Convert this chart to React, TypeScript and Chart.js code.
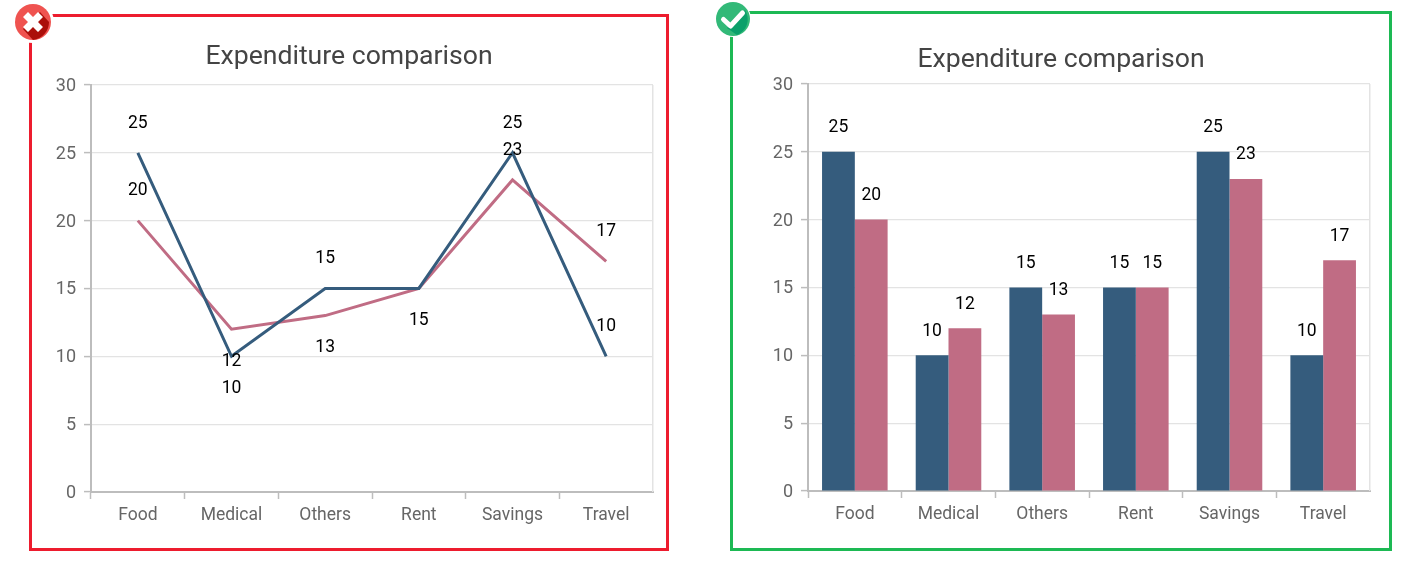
import React, { useEffect, useRef } from "react";
import { Chart, registerables } from "chart.js";

Chart.register(...registerables);

const categories = ["Food", "Medical", "Others", "Rent", "Savings", "Travel"];
const seriesA = [25, 10, 15, 15, 25, 10];
const seriesB = [20, 12, 13, 15, 23, 17];
const yTicks = [0, 5, 10, 15, 20, 25, 30];
const titleText = "Expenditure comparison";

// Which side of each line point its value label is printed on
const lineSidesA = ["above", "below", "above", "none", "above", "above"];
const lineSidesB = ["above", "below", "below", "below", "above", "above"];

const BLUE = "#355C7D";
const PINK = "#C06C84";
const FONT = "Roboto";
const AXIS = "#BDBDBD";
const GRID = "#E3E3E3";

const valueLabels = {
  id: "valueLabels",
  afterDatasetsDraw(chart: any) {
    const { ctx } = chart;
    const opts = chart.options.plugins.valueLabels;
    ctx.save();
    ctx.font = `17.5px ${FONT}`;
    ctx.fillStyle = "#000";
    ctx.textAlign = "center";
    ctx.textBaseline = "middle";
    chart.data.datasets.forEach((ds: any, di: number) => {
      const meta = chart.getDatasetMeta(di);
      meta.data.forEach((el: any, i: number) => {
        const side = ds.labelSides ? ds.labelSides[i] : "above";
        if (side === "none") return;
        const dy = side === "above" ? -opts.above : opts.below;
        ctx.fillText(String(ds.data[i]), el.x, el.y + dy);
      });
    });
    ctx.restore();
  },
};

const rightEdge = {
  id: "rightEdge",
  beforeDatasetsDraw(chart: any) {
    const { ctx, chartArea } = chart;
    ctx.save();
    ctx.strokeStyle = GRID;
    ctx.lineWidth = 1.5;
    ctx.beginPath();
    ctx.moveTo(chartArea.right - 0.25, chartArea.top);
    ctx.lineTo(chartArea.right - 0.25, chartArea.bottom);
    ctx.stroke();
    ctx.restore();
  },
};

// sidePad is applied on both sides so the title stays centred on the canvas
function buildOptions(titleTop: number, titleBottom: number, yWidth: number, xHeight: number, sidePad: number, offsets: any) {
  return {
    responsive: false,
    animation: false as const,
    layout: { padding: { left: sidePad, right: sidePad, top: 0, bottom: 0 } },
    plugins: {
      legend: { display: false },
      tooltip: { enabled: false },
      title: {
        display: true,
        text: titleText,
        color: "#444444",
        font: { family: FONT, size: 26.6, weight: "normal" as const, lineHeight: 1.2 },
        padding: { top: titleTop, bottom: titleBottom },
      },
      valueLabels: offsets,
    },
    scales: {
      x: {
        type: "category" as const,
        offset: true,
        afterFit(s: any) {
          s.height = xHeight;
        },
        border: { color: AXIS, width: 2 },
        grid: {
          display: true,
          drawOnChartArea: false,
          drawTicks: true,
          offset: true,
          tickLength: 7,
          tickColor: (c: any) => (c.type === "tick" ? AXIS : "rgba(0,0,0,0)"),
          tickWidth: 1.5,
        },
        ticks: { color: "#666666", font: { family: FONT, size: 17.5 }, padding: 6, maxRotation: 0, autoSkip: false },
      },
      y: {
        min: 0,
        max: 30,
        afterFit(s: any) {
          s.width = yWidth;
        },
        afterBuildTicks(s: any) {
          s.ticks = yTicks.map((v) => ({ value: v }));
        },
        border: { color: AXIS, width: 2 },
        grid: { color: GRID, lineWidth: 1.2, tickColor: AXIS, tickLength: 7, tickWidth: 1.5 },
        ticks: { color: "#666666", font: { family: FONT, size: 18 }, padding: 8, labelOffset: 1.5 },
      },
    },
  };
}

function LineChart() {
  const ref = useRef<HTMLCanvasElement>(null);
  useEffect(() => {
    const chart = new Chart(ref.current!, {
      type: "line",
      plugins: [rightEdge, valueLabels],
      data: {
        labels: categories,
        datasets: [
          { data: seriesA, borderColor: BLUE, borderWidth: 3, pointRadius: 0, tension: 0, labelSides: lineSidesA } as any,
          { data: seriesB, borderColor: PINK, borderWidth: 3, pointRadius: 0, tension: 0, labelSides: lineSidesB } as any,
        ],
      },
      options: buildOptions(24, 12, 46, 57, 14, { above: 29.5, below: 32.5 }) as any,
    });
    return () => chart.destroy();
  }, []);
  return <canvas ref={ref} width={636} height={532} style={{ position: "absolute", left: 31, top: 17, display: "block" }} />;
}

function BarChart() {
  const ref = useRef<HTMLCanvasElement>(null);
  useEffect(() => {
    const chart = new Chart(ref.current!, {
      type: "bar",
      plugins: [rightEdge, valueLabels],
      data: {
        labels: categories,
        datasets: [
          { data: seriesA, backgroundColor: BLUE, categoryPercentage: 0.7, barPercentage: 1 } as any,
          { data: seriesB, backgroundColor: PINK, categoryPercentage: 0.7, barPercentage: 1 } as any,
        ],
      },
      options: buildOptions(30, 8, 56, 57, 20, { above: 24, below: 24 }) as any,
    });
    return () => chart.destroy();
  }, []);
  return <canvas ref={ref} width={658} height={534} style={{ position: "absolute", left: 732, top: 14, display: "block" }} />;
}

function CrossBadge() {
  return (
    <svg width={48} height={48} viewBox="0 0 48 48" style={{ position: "absolute", left: 9, top: -2 }}>
      <circle cx={24} cy={24} r={21} fill="#fff" />
      <circle cx={24} cy={24} r={18} fill="#EF5350" />
      <path d="M14 31 L31 14 L40 24 A18 18 0 0 1 24 42 Z" fill="#AB0F0A" />
      <path d="M24 19 L29 14 L34 19 L29 24 L34 29 L29 34 L24 29 L19 34 L14 29 L19 24 L14 19 L19 14 Z" fill="#fff" />
    </svg>
  );
}

function CheckBadge() {
  return (
    <svg width={48} height={48} viewBox="0 0 48 48" style={{ position: "absolute", left: 709, top: -5 }}>
      <circle cx={24} cy={24} r={18} fill="#fff" />
      <circle cx={24} cy={24} r={17} fill="#32B978" />
      <path d="M18 33 L36 15 A17 17 0 0 1 28 40 Z" fill="#0BA06A" />
      <path d="M14.5 24.5 L21.5 31 L33.5 18" fill="none" stroke="#fff" strokeWidth={5} strokeLinecap="round" strokeLinejoin="round" />
    </svg>
  );
}

export default function App() {
  return (
    <div style={{ position: "absolute", left: 0, top: 0, width: 1428, height: 571, background: "#fff", overflow: "hidden" }}>
      <div style={{ position: "absolute", left: 29, top: 14, width: 640, height: 537, boxSizing: "border-box", border: "3px solid #ED1C2E" }} />
      <div style={{ position: "absolute", left: 730, top: 11, width: 662, height: 540, boxSizing: "border-box", border: "3px solid #1DB954" }} />
      <LineChart />
      <BarChart />
      <CrossBadge />
      <CheckBadge />
    </div>
  );
}
